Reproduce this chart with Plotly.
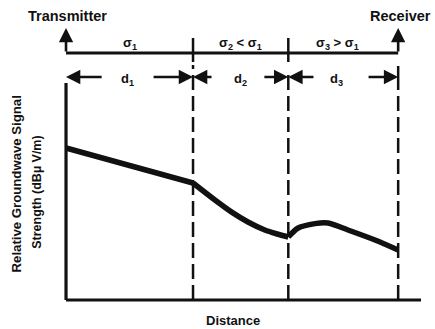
import plotly.graph_objects as go

# Path geometry (relative distance units) and relative field strength (dB)
boundaries = [0, 40, 70, 104.6]          # transmitter, sigma1/sigma2, sigma2/sigma3, receiver
axis_end = 111.8

seg1_x = [0, 40]
seg1_y = [76, 58.5]
seg2_x = [40, 46.9, 52.3, 57.3, 62.6, 66.5, 70]
seg2_y = [58.5, 50, 43.8, 39, 35, 33, 31.5]
seg3_x = [70, 73.1, 78.4, 82.5, 88.8, 97.3, 104.6]
seg3_y = [31.5, 36, 38.2, 38.5, 35, 30, 25]

sigma_labels = ["σ<sub>1</sub>", "σ<sub>2</sub> < σ<sub>1</sub>", "σ<sub>3</sub> > σ<sub>1</sub>"]
d_labels = ["d<sub>1</sub>", "d<sub>2</sub>", "d<sub>3</sub>"]

FONT = "Liberation Sans, Arial, sans-serif"
INK = "#111111"

fig = go.Figure()
for sx, sy, shp in [(seg1_x, seg1_y, "linear"), (seg2_x, seg2_y, "spline"), (seg3_x, seg3_y, "spline")]:
    fig.add_trace(go.Scatter(x=sx, y=sy, mode="lines",
                             line=dict(color=INK, width=5.5, shape=shp, smoothing=0.8),
                             hoverinfo="skip", showlegend=False))

shapes = []
# axes
shapes.append(dict(type="line", x0=0, x1=0, y0=0, y1=108.5, line=dict(color=INK, width=3.2)))
shapes.append(dict(type="line", x0=0, x1=axis_end, y0=0, y1=0, line=dict(color=INK, width=3.2)))
# top conductivity line
top_y = 123.5
shapes.append(dict(type="line", x0=0, x1=boundaries[3], y0=top_y, y1=top_y, line=dict(color=INK, width=3)))
# boundary ticks through top line
for bx in boundaries[1:3]:
    shapes.append(dict(type="line", x0=bx, x1=bx, y0=119, y1=131, line=dict(color=INK, width=2.5)))
# receiver tick on distance row
shapes.append(dict(type="line", x0=boundaries[3], x1=boundaries[3], y0=105, y1=117, line=dict(color=INK, width=2.5)))
# dashed boundaries
dash_tops = [117.5, 115, 104]
for bx, yt in zip(boundaries[1:], dash_tops):
    shapes.append(dict(type="line", x0=bx, x1=bx, y0=0, y1=yt,
                       line=dict(color=INK, width=2.5, dash="15px,6px")))

ann = []
def arrow(xh, yh, xt, yt):
    ann.append(dict(x=xh, y=yh, ax=xt, ay=yt, xref="x", yref="y", axref="x", ayref="y",
                    showarrow=True, arrowhead=2, arrowsize=1.1, arrowwidth=2.6,
                    arrowcolor=INK, text=""))

# transmitter / receiver up-arrows
arrow(0, 136, 0, top_y)
arrow(boundaries[3], 136, boundaries[3], top_y)

# distance row arrows
row_y = 111.5
arrow(0, row_y, 11.7, row_y)
arrow(40, row_y, 27.1, row_y)
arrow(40, row_y, 46.3, row_y)
arrow(70, row_y, 62, row_y)
arrow(70, row_y, 78.4, row_y)
arrow(boundaries[3], row_y, 94.8, row_y)

def text(x, y, s, size, xanchor="center", angle=0):
    ann.append(dict(x=x, y=y, xref="x", yref="y", text=s, showarrow=False,
                    xanchor=xanchor, yanchor="middle", textangle=angle,
                    font=dict(family=FONT, size=size, color=INK)))

text(0.6, 142, "<b>Transmitter</b>", 14.5)
text(95.0, 142, "<b>Receiver</b>", 14.5, xanchor="left")
for cx, s in zip([20.2, 54.8, 85.4], sigma_labels):
    text(cx, 128.5, "<b>" + s + "</b>", 13)
for cx, s in zip([19.5, 54.8, 85.2], d_labels):
    text(cx, 110.5, "<b>" + s + "</b>", 13)
text(52.6, -10, "<b>Distance</b>", 13)
text(-15.6, 58, "<b>Relative Groundwave Signal</b>", 13.2, angle=-90)
text(-9.2, 54, "<b>Strength (dBµ V/m)</b>", 12.5, angle=-90)

fig.update_layout(
    width=435, height=329,
    margin=dict(l=0, r=0, t=0, b=0),
    paper_bgcolor="white", plot_bgcolor="white",
    xaxis=dict(range=[-20.79, 116.2], visible=False, fixedrange=True),
    yaxis=dict(range=[-14.5, 150], visible=False, fixedrange=True),
    shapes=shapes, annotations=ann, showlegend=False,
)
fig.write_html("out.html")
